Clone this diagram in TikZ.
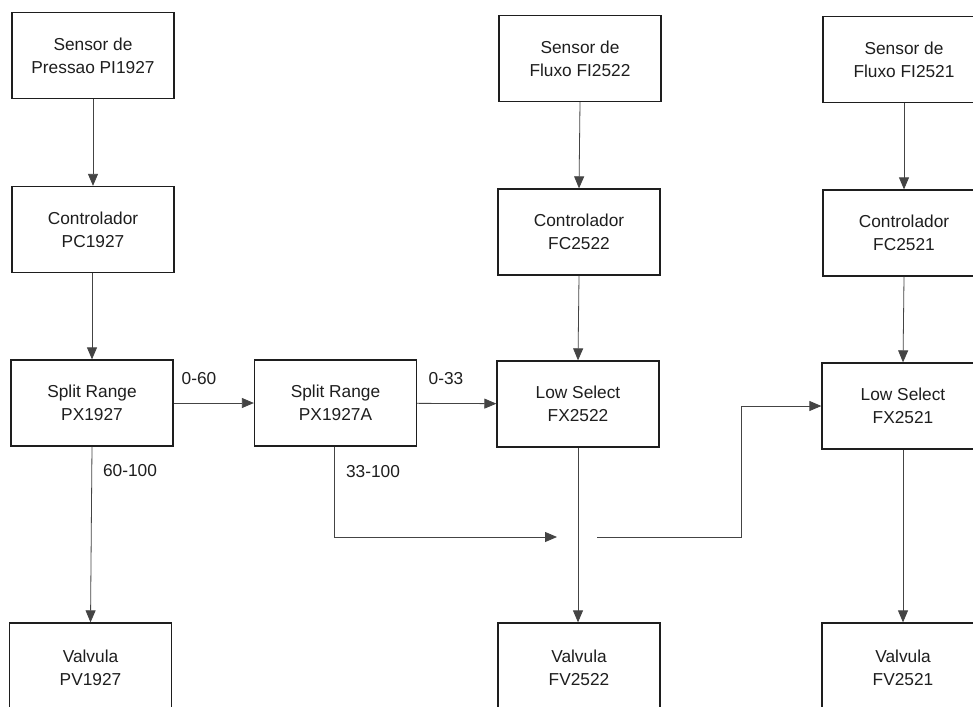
\documentclass[tikz,border=0pt]{standalone}
\usepackage{fontspec}
\setmainfont{Liberation Sans}
\usetikzlibrary{arrows.meta}
\definecolor{ink}{HTML}{1E1E1E}
\definecolor{wire}{HTML}{444444}
\begin{document}
\begin{tikzpicture}[x=1pt,y=-1pt,
  blk/.style={draw=ink,line width=1.3pt,minimum width=162pt,minimum height=86pt,
    inner sep=0pt,align=center,text=ink,font=\fontsize{17.3}{23}\selectfont},
  lbl/.style={text=ink,font=\fontsize{17.3}{20}\selectfont,inner sep=0pt},
  conn/.style={draw=wire,line width=0.8pt,-{Triangle[length=12pt,width=10pt]}},
  plain/.style={draw=wire,line width=0.8pt}]
\clip (0,0) rectangle (973,706);
\fill[white] (0,0) rectangle (973,706);
% column 1
\node[blk] (pi) at (93,55.5) {Sensor de\\Pressao PI1927};
\node[blk] (pc) at (93,229.5) {Controlador\\PC1927};
\node[blk] (px) at (92,403) {Split Range\\PX1927};
\node[blk,minimum height=90pt] (pv) at (90.5,668) {Valvula\\PV1927};
% column 2
\node[blk] (pxa) at (335.5,403) {Split Range\\PX1927A};
% column 3
\node[blk] (fi22) at (580,58.5) {Sensor de\\Fluxo FI2522};
\node[blk] (fc22) at (579,232) {Controlador\\FC2522};
\node[blk] (fx22) at (578,404) {Low Select\\FX2522};
\node[blk,minimum height=90pt] (fv22) at (579,668) {Valvula\\FV2522};
% column 4
\node[blk] (fi21) at (904,59.5) {Sensor de\\Fluxo FI2521};
\node[blk] (fc21) at (904,233) {Controlador\\FC2521};
\node[blk] (fx21) at (903,406) {Low Select\\FX2521};
\node[blk,minimum height=90pt] (fv21) at (903,668) {Valvula\\FV2521};
% vertical connectors
\draw[conn] (pi.south) -- (pi.south |- pc.north);
\draw[conn] (px.north |- pc.south) -- (px.north);
\draw[conn] (px.south) -- (pv.north);
\draw[conn] (fi22.south) -- (fc22.north);
\draw[conn] (fc22.south) -- (fx22.north);
\draw[conn] (fx22.south) -- (fx22.south |- fv22.north);
\draw[conn] (fi21.south) -- (fc21.north);
\draw[conn] (fc21.south) -- (fx21.north);
\draw[conn] (fx21.south) -- (fv21.north);
% horizontal connectors
\draw[conn] (px) -- (pxa);
\draw[conn] (pxa) -- (fx22);
\coordinate (c1) at (557,537);
\coordinate (c2) at (597,537);
\draw[conn] (pxa.south -| 334,0) |- (c1);
\draw[conn] (c2) -| (741,406) -- (fx21.west);
% labels
\node[lbl] (l060) at (199,379) {0-60};
\node[lbl] (l033) at (446,379) {0-33};
\node[lbl] (l60100) at (130,471) {60-100};
\node[lbl] (l33100) at (373,472) {33-100};
\end{tikzpicture}
\end{document}
